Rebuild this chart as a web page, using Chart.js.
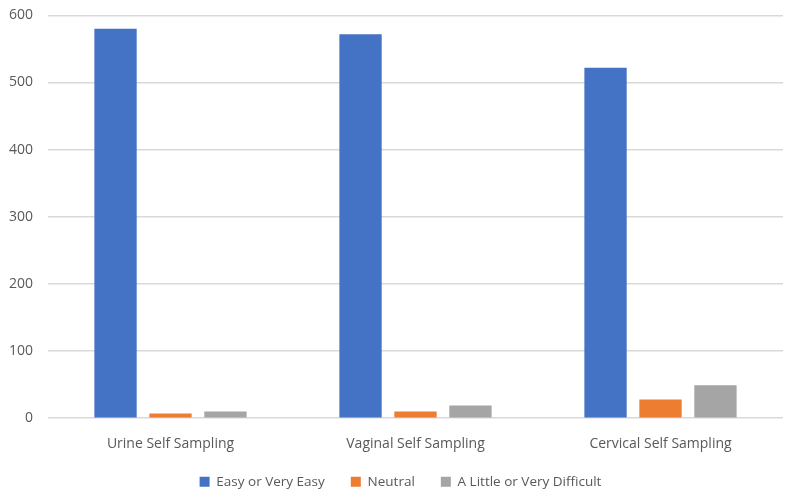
<!DOCTYPE html>
<html>
<head>
<meta charset="utf-8">
<script src="https://cdn.jsdelivr.net/npm/chart.js@4"></script>
<style>
html,body{margin:0;padding:0;background:#fff;}
#wrap{width:792px;height:494px;position:relative;}
</style>
</head>
<body>
<div id="wrap"><canvas id="c" width="792" height="494"></canvas></div>
<script>
const categories = ["Urine Self Sampling", "Vaginal Self Sampling", "Cervical Self Sampling"];
const easyValues = [580, 572, 522];
const neutralValues = [7, 10, 28];
const difficultValues = [10, 19, 49];
const seriesNames = ["Easy or Very Easy", "Neutral", "A Little or Very Difficult"];
const seriesColors = ["#4472C4", "#ED7D31", "#A5A5A5"];

Chart.defaults.font.family = "'Open Sans', 'Liberation Sans', sans-serif";
Chart.defaults.color = "#595959";

const legendHeightPlugin = {
  id: 'legendHeight',
  beforeLayout(chart) {
    const lg = chart.legend;
    if (lg && !lg._patched) {
      const origFit = lg.fit;
      lg.fit = function() { origFit.call(this); this.height = 33; };
      const origDraw = lg._draw;
      lg._draw = function() {
        const ctx = this.ctx;
        ctx.save();
        ctx.translate(6, -12);
        origDraw.call(this);
        ctx.restore();
      };
      lg._patched = true;
    }
  }
};

new Chart(document.getElementById('c'), {
  type: 'bar',
  data: {
    labels: categories,
    datasets: [
      {label: seriesNames[0], data: easyValues, backgroundColor: seriesColors[0]},
      {label: seriesNames[1], data: neutralValues, backgroundColor: seriesColors[1]},
      {label: seriesNames[2], data: difficultValues, backgroundColor: seriesColors[2]}
    ]
  },
  plugins: [legendHeightPlugin],
  options: {
    responsive: false,
    animation: false,
    layout: {padding: {left: 6, right: 9, top: 0, bottom: 0}},
    datasets: {bar: {categoryPercentage: 0.673, barPercentage: 0.77}},
    plugins: {
      legend: {
        position: 'bottom',
        labels: {boxWidth: 10, boxHeight: 10, padding: 26, font: {size: 13.5}, color: '#595959'}
      },
      tooltip: {enabled: false}
    },
    scales: {
      x: {
        grid: {display: false},
        border: {display: false},
        ticks: {font: {size: 14}, color: '#595959', padding: 9}
      },
      y: {
        min: 0, max: 600,
        ticks: {stepSize: 100, font: {size: 14, lineHeight: 0.05}, color: '#595959', padding: 15},
        grid: {color: '#d9d9d9', lineWidth: 1.5, drawTicks: false},
        border: {display: false},
        afterFit: (s) => { s.width = 42; }
      }
    }
  }
});
</script>
</body>
</html>
